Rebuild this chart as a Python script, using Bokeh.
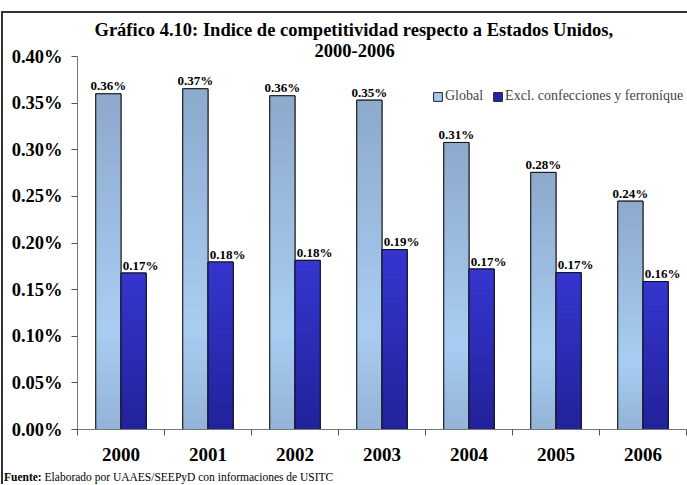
import numpy as np
from bokeh.plotting import figure
from bokeh.layouts import column
from bokeh.models import (ColumnDataSource, FixedTicker, PrintfTickFormatter,
                          Legend, LegendItem, Title, Div)
from bokeh.embed import file_html
from bokeh.resources import INLINE
from bokeh.core.properties import value

# ---- data ----
years = ["2000", "2001", "2002", "2003", "2004", "2005", "2006"]
global_vals = [0.360, 0.3654, 0.3579, 0.3532, 0.3078, 0.2757, 0.2449]
excl_vals = [0.1678, 0.1796, 0.1814, 0.1929, 0.1721, 0.1682, 0.1586]
y_ticks = [0.0, 0.05, 0.10, 0.15, 0.20, 0.25, 0.30, 0.35, 0.40]
series_names = ["Global", "Excl. confecciones y ferroníque"]
title_lines = ["Gráfico 4.10: Indice de competitividad respecto a Estados Unidos,", "2000-2006"]
source_bold = "Fuente:"
source_text = "Elaborado por UAAES/SEEPyD con informaciones de USITC"

FONT = "Liberation Serif"
BAR_W = 0.29
N_SEG = 30

def hex2rgb(h):
    h = h.lstrip("#")
    return np.array([int(h[i:i + 2], 16) for i in (0, 2, 4)], dtype=float)

def grad_color(stops, f):
    for (f0, c0), (f1, c1) in zip(stops[:-1], stops[1:]):
        if f0 <= f <= f1:
            t = (f - f0) / (f1 - f0) if f1 > f0 else 0
            c = hex2rgb(c0) * (1 - t) + hex2rgb(c1) * t
            return "#%02x%02x%02x" % tuple(int(round(v)) for v in c)
    return stops[-1][1]

global_stops = [(0.0, "#93b3d7"), (0.3, "#a9cdf2"), (1.0, "#8da9cc")]
excl_stops = [(0.0, "#22229a"), (1.0, "#3636d0")]
legend_colors = ["#a6c8ee", "#2626a6"]

centers = np.arange(len(years)) + 0.5
xg = centers - BAR_W / 2
xe = centers + BAR_W / 2

W, H = 684, 453
fig = figure(width=W, height=H, x_range=(0, len(years)), y_range=(0, 0.40),
             output_backend="svg", toolbar_location=None,
             min_border_left=74, min_border_right=1, min_border_top=43, min_border_bottom=37)
fig.outline_line_color = None
fig.xgrid.grid_line_color = None
fig.ygrid.grid_line_color = None
fig.background_fill_color = "white"
fig.border_fill_color = "white"

def seg_source(xs, vals, stops):
    d = dict(x=[], bottom=[], top=[], color=[])
    for x, v in zip(xs, vals):
        for k in range(N_SEG):
            d["x"].append(x)
            d["bottom"].append(v * k / N_SEG)
            d["top"].append(v * (k + 1) / N_SEG)
            d["color"].append(grad_color(stops, (k + 0.5) / N_SEG))
    return ColumnDataSource(d)

legend_renderers = []
for xs, vals, stops, lc in [(xg, global_vals, global_stops, legend_colors[0]),
                            (xe, excl_vals, excl_stops, legend_colors[1])]:
    base = fig.vbar(x=xs, top=vals, width=BAR_W, fill_color=lc, line_color="#222222", line_width=1)
    legend_renderers.append(base)
    fig.vbar(x="x", bottom="bottom", top="top", width=BAR_W, fill_color="color",
             line_color="color", line_width=0.5, source=seg_source(xs, vals, stops))
    fig.vbar(x=xs, top=vals, width=BAR_W, fill_color=None, line_color="#111111", line_width=1)

# value labels
fig.text(x=xg, y=global_vals, text=[f"{v:.2f}%" for v in global_vals],
         text_font=value(FONT), text_font_style="bold", text_font_size="13px",
         text_align="center", text_baseline="alphabetic", y_offset=-8, text_color="black")
fig.text(x=xe, y=excl_vals, text=[f"{v:.2f}%" for v in excl_vals],
         text_font=value(FONT), text_font_style="bold", text_font_size="13px",
         text_align="center", text_baseline="alphabetic", x_offset=7, y_offset=-8, text_color="black")

# axes
ya = fig.yaxis[0]
ya.ticker = FixedTicker(ticks=y_ticks)
ya.formatter = PrintfTickFormatter(format="%.2f%%")
ya.major_label_text_font = FONT
ya.major_label_text_font_style = "bold"
ya.major_label_text_font_size = "18.5px"
ya.major_label_text_color = "black"
ya.axis_line_color = "#777777"
ya.major_tick_line_color = "#555555"
ya.major_tick_out = 6
ya.major_tick_in = 0
ya.minor_tick_line_color = None
ya.major_label_standoff = 9

xa = fig.xaxis[0]
xa.ticker = FixedTicker(ticks=list(centers), minor_ticks=list(range(len(years) + 1)))
xa.major_label_overrides = {float(c): y for c, y in zip(centers, years)}
xa.major_label_text_font = FONT
xa.major_label_text_font_style = "bold"
xa.major_label_text_font_size = "19px"
xa.major_label_text_color = "black"
xa.axis_line_color = "#777777"
xa.major_tick_line_color = None
xa.major_tick_out = 0
xa.major_tick_in = 0
xa.minor_tick_line_color = "#555555"
xa.minor_tick_out = 6
xa.minor_tick_in = 0
xa.major_label_standoff = 12

# legend
legend = Legend(items=[LegendItem(label=series_names[0], renderers=[legend_renderers[0]]),
                       LegendItem(label=series_names[1], renderers=[legend_renderers[1]])],
                orientation="horizontal", location=(355, 325),
                glyph_width=11, glyph_height=11, label_standoff=2, spacing=9,
                padding=0, margin=0, border_line_color=None, background_fill_alpha=0,
                label_text_font=FONT, label_text_font_size="14px", label_height=16)
fig.add_layout(legend, "center")

# title (first added sits closest to the plot)
fig.add_layout(Title(text=title_lines[1], align="left", offset=237, standoff=0,
                     text_font=FONT, text_font_style="bold", text_font_size="18.5px",
                     text_color="black"), "above")
fig.add_layout(Title(text=title_lines[0], align="left", offset=17, standoff=3,
                     text_font=FONT, text_font_style="bold", text_font_size="18.5px",
                     text_color="black"), "above")

# source note
footer_html = (
    "<div style=\"font-family: 'Liberation Serif', 'Times New Roman', serif; font-size: 11.5px; "
    "line-height: 14px; color: black; white-space: nowrap; padding-top: 4px; padding-left: 1px;\">"
    f"<b>{source_bold}</b> {source_text}</div>"
)
footer = Div(text=footer_html, width=W, height=18, margin=(0, 0, 0, 0),
             styles={"background": "white"})

p = column(fig, footer, spacing=0,
           styles={"margin-top": "11px", "margin-left": "1px",
                   "border-top": "2px solid #333333", "border-left": "2px solid #333333"})

open("out.html", "w").write(file_html(p, INLINE))
